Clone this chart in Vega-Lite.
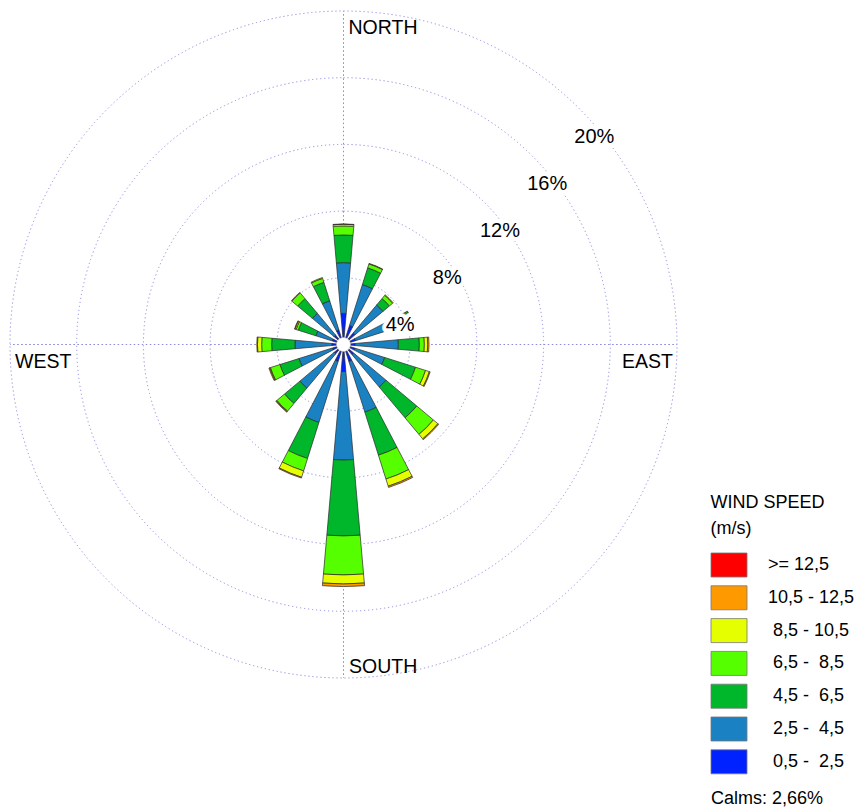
{
  "$schema": "https://vega.github.io/schema/vega-lite/v6.json",
  "width": 687,
  "height": 689,
  "autosize": {"type": "none"},
  "padding": {"left": 0, "top": 0, "right": 171, "bottom": 121},
  "background": "white",
  "config": {"view": {"stroke": null}, "font": "Liberation Sans"},
  "title": {
    "text": "Calms: 2,66%",
    "orient": "bottom",
    "anchor": "end",
    "frame": "group",
    "font": "Liberation Sans",
    "fontSize": 18,
    "fontWeight": "normal",
    "color": "black",
    "dx": 136,
    "offset": 14
  },
  "datasets": {
    "rings": [{"r": 4}, {"r": 8}, {"r": 12}, {"r": 16}, {"r": 20}],
    "axes": [{"ang": 0, "r": 20}, {"ang": 90, "r": 20}, {"ang": 180, "r": 20}, {"ang": 270, "r": 20}],
    "rose": [
      {"dir": "N", "bin": 1, "speed": "\u200b\u00a00,5 - \u00a02,5", "pct": 1.87},
      {"dir": "N", "bin": 2, "speed": "\u200b\u00a02,5 - \u00a04,5", "pct": 3.04},
      {"dir": "N", "bin": 3, "speed": "\u200b\u00a04,5 - \u00a06,5", "pct": 1.66},
      {"dir": "N", "bin": 4, "speed": "\u200b\u00a06,5 - \u00a08,5", "pct": 0.54},
      {"dir": "N", "bin": 5, "speed": "\u200b\u00a08,5 - 10,5", "pct": 0.10},
      {"dir": "N", "bin": 6, "speed": "10,5 - 12,5", "pct": 0.02},
      {"dir": "NNE", "bin": 1, "speed": "\u200b\u00a00,5 - \u00a02,5", "pct": 1.20},
      {"dir": "NNE", "bin": 2, "speed": "\u200b\u00a02,5 - \u00a04,5", "pct": 2.57},
      {"dir": "NNE", "bin": 3, "speed": "\u200b\u00a04,5 - \u00a06,5", "pct": 1.05},
      {"dir": "NNE", "bin": 4, "speed": "\u200b\u00a06,5 - \u00a08,5", "pct": 0.25},
      {"dir": "NNE", "bin": 5, "speed": "\u200b\u00a08,5 - 10,5", "pct": 0.03},
      {"dir": "NE", "bin": 1, "speed": "\u200b\u00a00,5 - \u00a02,5", "pct": 0.90},
      {"dir": "NE", "bin": 2, "speed": "\u200b\u00a02,5 - \u00a04,5", "pct": 2.19},
      {"dir": "NE", "bin": 3, "speed": "\u200b\u00a04,5 - \u00a06,5", "pct": 0.51},
      {"dir": "NE", "bin": 4, "speed": "\u200b\u00a06,5 - \u00a08,5", "pct": 0.25},
      {"dir": "NE", "bin": 5, "speed": "\u200b\u00a08,5 - 10,5", "pct": 0.04},
      {"dir": "ENE", "bin": 1, "speed": "\u200b\u00a00,5 - \u00a02,5", "pct": 0.76},
      {"dir": "ENE", "bin": 2, "speed": "\u200b\u00a02,5 - \u00a04,5", "pct": 2.24},
      {"dir": "ENE", "bin": 3, "speed": "\u200b\u00a04,5 - \u00a06,5", "pct": 1.22},
      {"dir": "ENE", "bin": 4, "speed": "\u200b\u00a06,5 - \u00a08,5", "pct": 0.08},
      {"dir": "ENE", "bin": 5, "speed": "\u200b\u00a08,5 - 10,5", "pct": 0.03},
      {"dir": "E", "bin": 1, "speed": "\u200b\u00a00,5 - \u00a02,5", "pct": 0.70},
      {"dir": "E", "bin": 2, "speed": "\u200b\u00a02,5 - \u00a04,5", "pct": 2.59},
      {"dir": "E", "bin": 3, "speed": "\u200b\u00a04,5 - \u00a06,5", "pct": 1.26},
      {"dir": "E", "bin": 4, "speed": "\u200b\u00a06,5 - \u00a08,5", "pct": 0.30},
      {"dir": "E", "bin": 5, "speed": "\u200b\u00a08,5 - 10,5", "pct": 0.20},
      {"dir": "E", "bin": 6, "speed": "10,5 - 12,5", "pct": 0.08},
      {"dir": "ESE", "bin": 1, "speed": "\u200b\u00a00,5 - \u00a02,5", "pct": 0.73},
      {"dir": "ESE", "bin": 2, "speed": "\u200b\u00a02,5 - \u00a04,5", "pct": 1.86},
      {"dir": "ESE", "bin": 3, "speed": "\u200b\u00a04,5 - \u00a06,5", "pct": 1.94},
      {"dir": "ESE", "bin": 4, "speed": "\u200b\u00a06,5 - \u00a08,5", "pct": 0.63},
      {"dir": "ESE", "bin": 5, "speed": "\u200b\u00a08,5 - 10,5", "pct": 0.24},
      {"dir": "ESE", "bin": 6, "speed": "10,5 - 12,5", "pct": 0.05},
      {"dir": "SE", "bin": 1, "speed": "\u200b\u00a00,5 - \u00a02,5", "pct": 0.80},
      {"dir": "SE", "bin": 2, "speed": "\u200b\u00a02,5 - \u00a04,5", "pct": 2.53},
      {"dir": "SE", "bin": 3, "speed": "\u200b\u00a04,5 - \u00a06,5", "pct": 2.41},
      {"dir": "SE", "bin": 4, "speed": "\u200b\u00a06,5 - \u00a08,5", "pct": 1.30},
      {"dir": "SE", "bin": 5, "speed": "\u200b\u00a08,5 - 10,5", "pct": 0.35},
      {"dir": "SE", "bin": 6, "speed": "10,5 - 12,5", "pct": 0.06},
      {"dir": "SSE", "bin": 1, "speed": "\u200b\u00a00,5 - \u00a02,5", "pct": 1.07},
      {"dir": "SSE", "bin": 2, "speed": "\u200b\u00a02,5 - \u00a04,5", "pct": 3.18},
      {"dir": "SSE", "bin": 3, "speed": "\u200b\u00a04,5 - \u00a06,5", "pct": 2.71},
      {"dir": "SSE", "bin": 4, "speed": "\u200b\u00a06,5 - \u00a08,5", "pct": 1.50},
      {"dir": "SSE", "bin": 5, "speed": "\u200b\u00a08,5 - 10,5", "pct": 0.45},
      {"dir": "SSE", "bin": 6, "speed": "10,5 - 12,5", "pct": 0.08},
      {"dir": "S", "bin": 1, "speed": "\u200b\u00a00,5 - \u00a02,5", "pct": 1.63},
      {"dir": "S", "bin": 2, "speed": "\u200b\u00a02,5 - \u00a04,5", "pct": 5.30},
      {"dir": "S", "bin": 3, "speed": "\u200b\u00a04,5 - \u00a06,5", "pct": 4.55},
      {"dir": "S", "bin": 4, "speed": "\u200b\u00a06,5 - \u00a08,5", "pct": 2.34},
      {"dir": "S", "bin": 5, "speed": "\u200b\u00a08,5 - 10,5", "pct": 0.54},
      {"dir": "S", "bin": 6, "speed": "10,5 - 12,5", "pct": 0.16},
      {"dir": "SSW", "bin": 1, "speed": "\u200b\u00a00,5 - \u00a02,5", "pct": 1.07},
      {"dir": "SSW", "bin": 2, "speed": "\u200b\u00a02,5 - \u00a04,5", "pct": 3.83},
      {"dir": "SSW", "bin": 3, "speed": "\u200b\u00a04,5 - \u00a06,5", "pct": 2.27},
      {"dir": "SSW", "bin": 4, "speed": "\u200b\u00a06,5 - \u00a08,5", "pct": 0.78},
      {"dir": "SSW", "bin": 5, "speed": "\u200b\u00a08,5 - 10,5", "pct": 0.40},
      {"dir": "SSW", "bin": 6, "speed": "10,5 - 12,5", "pct": 0.05},
      {"dir": "SW", "bin": 1, "speed": "\u200b\u00a00,5 - \u00a02,5", "pct": 0.74},
      {"dir": "SW", "bin": 2, "speed": "\u200b\u00a02,5 - \u00a04,5", "pct": 2.68},
      {"dir": "SW", "bin": 3, "speed": "\u200b\u00a04,5 - \u00a06,5", "pct": 1.20},
      {"dir": "SW", "bin": 4, "speed": "\u200b\u00a06,5 - \u00a08,5", "pct": 0.60},
      {"dir": "SW", "bin": 5, "speed": "\u200b\u00a08,5 - 10,5", "pct": 0.04},
      {"dir": "SW", "bin": 6, "speed": "10,5 - 12,5", "pct": 0.04},
      {"dir": "WSW", "bin": 1, "speed": "\u200b\u00a00,5 - \u00a02,5", "pct": 0.70},
      {"dir": "WSW", "bin": 2, "speed": "\u200b\u00a02,5 - \u00a04,5", "pct": 2.10},
      {"dir": "WSW", "bin": 3, "speed": "\u200b\u00a04,5 - \u00a06,5", "pct": 1.20},
      {"dir": "WSW", "bin": 4, "speed": "\u200b\u00a06,5 - \u00a08,5", "pct": 0.60},
      {"dir": "WSW", "bin": 5, "speed": "\u200b\u00a08,5 - 10,5", "pct": 0.04},
      {"dir": "WSW", "bin": 6, "speed": "10,5 - 12,5", "pct": 0.05},
      {"dir": "W", "bin": 1, "speed": "\u200b\u00a00,5 - \u00a02,5", "pct": 0.70},
      {"dir": "W", "bin": 2, "speed": "\u200b\u00a02,5 - \u00a04,5", "pct": 2.21},
      {"dir": "W", "bin": 3, "speed": "\u200b\u00a04,5 - \u00a06,5", "pct": 1.40},
      {"dir": "W", "bin": 4, "speed": "\u200b\u00a06,5 - \u00a08,5", "pct": 0.60},
      {"dir": "W", "bin": 5, "speed": "\u200b\u00a08,5 - 10,5", "pct": 0.25},
      {"dir": "W", "bin": 6, "speed": "10,5 - 12,5", "pct": 0.04},
      {"dir": "WNW", "bin": 1, "speed": "\u200b\u00a00,5 - \u00a02,5", "pct": 0.70},
      {"dir": "WNW", "bin": 2, "speed": "\u200b\u00a02,5 - \u00a04,5", "pct": 1.04},
      {"dir": "WNW", "bin": 3, "speed": "\u200b\u00a04,5 - \u00a06,5", "pct": 1.10},
      {"dir": "WNW", "bin": 4, "speed": "\u200b\u00a06,5 - \u00a08,5", "pct": 0.14},
      {"dir": "WNW", "bin": 5, "speed": "\u200b\u00a08,5 - 10,5", "pct": 0.07},
      {"dir": "WNW", "bin": 6, "speed": "10,5 - 12,5", "pct": 0.03},
      {"dir": "NW", "bin": 1, "speed": "\u200b\u00a00,5 - \u00a02,5", "pct": 0.75},
      {"dir": "NW", "bin": 2, "speed": "\u200b\u00a02,5 - \u00a04,5", "pct": 1.69},
      {"dir": "NW", "bin": 3, "speed": "\u200b\u00a04,5 - \u00a06,5", "pct": 1.15},
      {"dir": "NW", "bin": 4, "speed": "\u200b\u00a06,5 - \u00a08,5", "pct": 0.45},
      {"dir": "NW", "bin": 5, "speed": "\u200b\u00a08,5 - 10,5", "pct": 0.04},
      {"dir": "NNW", "bin": 1, "speed": "\u200b\u00a00,5 - \u00a02,5", "pct": 0.92},
      {"dir": "NNW", "bin": 2, "speed": "\u200b\u00a02,5 - \u00a04,5", "pct": 1.83},
      {"dir": "NNW", "bin": 3, "speed": "\u200b\u00a04,5 - \u00a06,5", "pct": 1.16},
      {"dir": "NNW", "bin": 4, "speed": "\u200b\u00a06,5 - \u00a08,5", "pct": 0.25},
      {"dir": "NNW", "bin": 5, "speed": "\u200b\u00a08,5 - 10,5", "pct": 0.05}
    ],
    "pctLabels": [
      {"r": 4, "label": "4%"}, {"r": 8, "label": "8%"}, {"r": 12, "label": "12%"},
      {"r": 16, "label": "16%"}, {"r": 20, "label": "20%"}
    ]
  },
  "resolve": {"scale": {"theta": "independent"}},
  "layer": [
    {
      "data": {"name": "rings"},
      "mark": {"type": "arc", "filled": false, "theta": 0, "theta2": 6.2832, "stroke": "#8c8ce0", "strokeWidth": 1, "strokeDash": [1.2, 2.82]},
      "encoding": {
        "radius": {"field": "r", "type": "quantitative", "stack": null,
          "scale": {"type": "linear", "domain": [0, 20], "range": [0, 333.5], "zero": true, "nice": false}}
      }
    },
    {
      "data": {"name": "axes"},
      "mark": {"type": "arc", "filled": false, "stroke": "#8c8ce0", "strokeWidth": 1, "strokeDash": [1.2, 2.82], "strokeDashOffset": 0.6},
      "encoding": {
        "theta": {"field": "ang", "type": "quantitative", "stack": null, "scale": {"domain": [0, 360], "range": [0, 6.283185]}},
        "theta2": {"field": "ang"},
        "radius": {"field": "r", "type": "quantitative", "stack": null,
          "scale": {"type": "linear", "domain": [0, 20], "range": [0, 333.5], "zero": true, "nice": false}}
      }
    },
    {
      "data": {"name": "rose"},
      "mark": {"type": "arc", "stroke": "#2a2a2a", "strokeWidth": 0.7},
      "encoding": {
        "theta": {"field": "dir", "type": "nominal",
          "scale": {"type": "band", "domain": ["N","NNE","NE","ENE","E","ESE","SE","SSE","S","SSW","SW","WSW","W","WNW","NW","NNW"],
            "range": [-0.19635, 6.08684], "paddingInner": 0.556, "paddingOuter": 0.278}},
        "radius": {"field": "pct", "type": "quantitative", "stack": "zero",
          "scale": {"type": "linear", "domain": [0, 20], "range": [0, 333.5], "zero": true, "nice": false}},
        "color": {"field": "speed", "type": "nominal",
          "scale": {
            "domain": [">= 12,5", "10,5 - 12,5", "\u200b\u00a08,5 - 10,5", "\u200b\u00a06,5 - \u00a08,5", "\u200b\u00a04,5 - \u00a06,5", "\u200b\u00a02,5 - \u00a04,5", "\u200b\u00a00,5 - \u00a02,5"],
            "range": ["#ff0000", "#ff9900", "#e6ff00", "#55ff00", "#00b62a", "#1a82c2", "#0022ff"]
          },
          "legend": {
            "orient": "none", "legendX": 710.5, "legendY": 494,
            "title": ["WIND SPEED", "(m/s)"],
            "titleFont": "Liberation Sans", "titleFontSize": 18, "titleFontWeight": "normal", "titleColor": "black",
            "titleLineHeight": 25.5, "titlePadding": 15, "titleLimit": 300,
            "labelFont": "Liberation Sans", "labelFontSize": 18, "labelColor": "black", "labelLimit": 300,
            "labelOffset": 32.5,
            "symbolType": "M-1,-1H2V1H-1Z", "symbolSize": 576, "symbolStrokeColor": "#777777", "symbolStrokeWidth": 0.8,
            "symbolOpacity": 1, "rowPadding": 3.8, "padding": 0
          }
        },
        "order": {"field": "bin", "type": "quantitative", "sort": "ascending"}
      }
    },
    {
      "data": {"values": [{"calm": 2.66}]},
      "mark": {"type": "arc", "radius": 7, "theta": 0, "theta2": 6.2832, "fill": "white", "stroke": "#bbbbbb", "strokeWidth": 0.5},
      "encoding": {}
    },
    {
      "data": {"name": "pctLabels"},
      "mark": {"type": "text", "theta": 0.7854, "align": "left", "baseline": "middle", "dx": -5, "dy": 28,
        "font": "Liberation Sans", "fontSize": 20, "fill": "white", "stroke": "white", "strokeWidth": 8, "strokeJoin": "round"},
      "encoding": {
        "radius": {"field": "r", "type": "quantitative", "stack": null,
          "scale": {"type": "linear", "domain": [0, 20], "range": [0, 333.5], "zero": true, "nice": false}},
        "text": {"field": "label"}
      }
    },
    {
      "data": {"name": "pctLabels"},
      "mark": {"type": "text", "theta": 0.7854, "align": "left", "baseline": "middle", "dx": -5, "dy": 28,
        "font": "Liberation Sans", "fontSize": 20, "fill": "black"},
      "encoding": {
        "radius": {"field": "r", "type": "quantitative", "stack": null,
          "scale": {"type": "linear", "domain": [0, 20], "range": [0, 333.5], "zero": true, "nice": false}},
        "text": {"field": "label"}
      }
    },
    {
      "data": {"values": [{"name": "NORTH", "ang": 0, "r": 20}, {"name": "WEST", "ang": 270, "r": 20}]},
      "mark": {"type": "text", "align": "left", "baseline": "alphabetic", "dx": 5, "dy": 23,
        "font": "Liberation Sans", "fontSize": 19.5, "fill": "black"},
      "encoding": {
        "theta": {"field": "ang", "type": "quantitative", "stack": null, "scale": {"domain": [0, 360], "range": [0, 6.283185]}},
        "radius": {"field": "r", "type": "quantitative", "stack": null,
          "scale": {"type": "linear", "domain": [0, 20], "range": [0, 333.5], "zero": true, "nice": false}},
        "text": {"field": "name"}
      }
    },
    {
      "data": {"values": [{"name": "SOUTH", "ang": 180, "r": 20}]},
      "mark": {"type": "text", "align": "left", "baseline": "alphabetic", "dx": 5.5, "dy": -5.5,
        "font": "Liberation Sans", "fontSize": 19.5, "fill": "black"},
      "encoding": {
        "theta": {"field": "ang", "type": "quantitative", "stack": null, "scale": {"domain": [0, 360], "range": [0, 6.283185]}},
        "radius": {"field": "r", "type": "quantitative", "stack": null,
          "scale": {"type": "linear", "domain": [0, 20], "range": [0, 333.5], "zero": true, "nice": false}},
        "text": {"field": "name"}
      }
    },
    {
      "data": {"values": [{"name": "EAST", "ang": 90, "r": 20}]},
      "mark": {"type": "text", "align": "right", "baseline": "alphabetic", "dx": -4, "dy": 24,
        "font": "Liberation Sans", "fontSize": 19.5, "fill": "black"},
      "encoding": {
        "theta": {"field": "ang", "type": "quantitative", "stack": null, "scale": {"domain": [0, 360], "range": [0, 6.283185]}},
        "radius": {"field": "r", "type": "quantitative", "stack": null,
          "scale": {"type": "linear", "domain": [0, 20], "range": [0, 333.5], "zero": true, "nice": false}},
        "text": {"field": "name"}
      }
    }
  ]
}
